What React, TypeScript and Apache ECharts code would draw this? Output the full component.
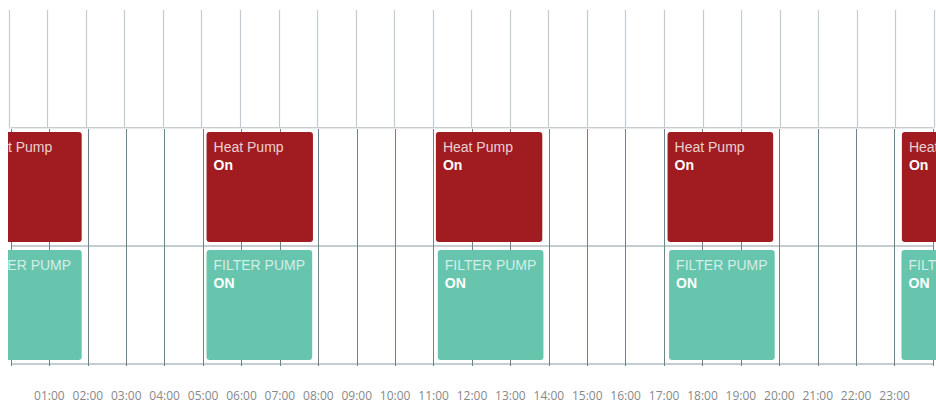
import React, { useEffect, useRef } from "react";
import * as echarts from "echarts";

const hourLabels = [
  "01:00", "02:00", "03:00", "04:00", "05:00", "06:00", "07:00", "08:00",
  "09:00", "10:00", "11:00", "12:00", "13:00", "14:00", "15:00", "16:00",
  "17:00", "18:00", "19:00", "20:00", "21:00", "22:00", "23:00",
];
const rows = ["Heat Pump", "Filter Pump"];

const heatStart = [-0.93, 5.09, 11.06, 17.09, 23.19];
const heatEnd = [1.84, 7.86, 13.83, 19.84, 26];
const filterStart = [-1.0, 5.09, 11.11, 17.13, 23.18];
const filterEnd = [1.84, 7.84, 13.86, 19.88, 26];

const heatName = "Heat Pump";
const heatState = "On";
const filterName = "FILTER PUMP";
const filterState = "ON";

const heatColor = "#a11c21";
const filterColor = "#67c5ae";

export default function App() {
  const ref = useRef<HTMLDivElement>(null);
  useEffect(() => {
    if (!ref.current) return;
    const chart = echarts.init(ref.current, null, { renderer: "svg" });
    const data: any[] = [];
    heatStart.forEach((s, i) =>
      data.push({ value: [s, heatEnd[i], 0], name: heatName, state: heatState, color: heatColor, sub: "rgba(255,255,255,0.8)" })
    );
    filterStart.forEach((s, i) =>
      data.push({ value: [s, filterEnd[i], 1], name: filterName, state: filterState, color: filterColor, sub: "rgba(255,255,255,0.72)" })
    );
    const font = "'Liberation Sans', Helvetica, Arial, sans-serif";
    chart.setOption({
      animation: false,
      grid: [
        { left: 1, right: 2, top: 2, height: 118 },
        { left: 1, right: 2, top: 120, height: 236 },
      ],
      xAxis: [
        {
          gridIndex: 0, type: "value", min: 0, max: 24, interval: 1, position: "top",
          axisLine: { show: true, lineStyle: { color: "#e8ebed", width: 1 } },
          axisTick: { show: false }, axisLabel: { show: false },
          splitLine: { show: true, lineStyle: { color: "#c3cbd0", width: 1.2 } },
        },
        {
          gridIndex: 1, type: "value", min: 0, max: 24, interval: 1, position: "bottom",
          axisLine: { show: false },
          axisTick: { show: true, length: 2, lineStyle: { color: "#6f838e" } },
          axisLabel: {
            show: true, margin: 25, fontSize: 12, color: "#888", fontFamily: "'Open Sans', sans-serif",
            formatter: (v: number) => (v >= 1 && v <= hourLabels.length ? hourLabels[v - 1] : ""),
          },
          splitLine: { show: true, lineStyle: { color: "#6f838e", width: 1 } },
        },
      ],
      yAxis: [
        {
          gridIndex: 0, type: "value", min: 0, max: 1,
          axisLine: { show: false }, axisTick: { show: false }, axisLabel: { show: false },
          splitLine: { show: false },
        },
        {
          gridIndex: 1, type: "category", data: rows, inverse: true,
          axisLine: { show: false }, axisTick: { show: false }, axisLabel: { show: false },
          splitLine: { show: true, lineStyle: { color: "#b3bdc2", width: 1.6 } },
        },
      ],
      series: [
        {
          type: "custom",
          xAxisIndex: 1,
          yAxisIndex: 1,
          clip: false,
          data,
          renderItem: (params: any, api: any) => {
            const item = data[params.dataIndex];
            const a = api.coord([api.value(0), api.value(2)]);
            const b = api.coord([api.value(1), api.value(2)]);
            const h = api.size([0, 1])[1];
            const x = a[0];
            const y = a[1] - h / 2 + 4;
            const w = b[0] - a[0];
            const hh = h - 8;
            return {
              type: "group",
              children: [
                {
                  type: "rect",
                  shape: { x, y, width: w, height: hh, r: 3 },
                  style: { fill: item.color },
                },
                {
                  type: "text",
                  x: x + 7,
                  y: y + 6,
                  style: {
                    text: "{a|" + item.name + "}\n{b|" + item.state + "}",
                    verticalAlign: "top",
                    align: "left",
                    fill: "#fff",
                    rich: {
                      a: { fontSize: 14, lineHeight: 18, fill: item.sub, fontFamily: font },
                      b: { fontSize: 14, lineHeight: 18, fill: "#fff", fontWeight: "bold", fontFamily: font },
                    },
                  },
                },
              ],
            };
          },
        },
      ],
    });
    return () => chart.dispose();
  }, []);
  return (
    <div
      ref={ref}
      style={{ position: "absolute", left: 8, top: 8, width: 928, height: 398 }}
    />
  );
}
